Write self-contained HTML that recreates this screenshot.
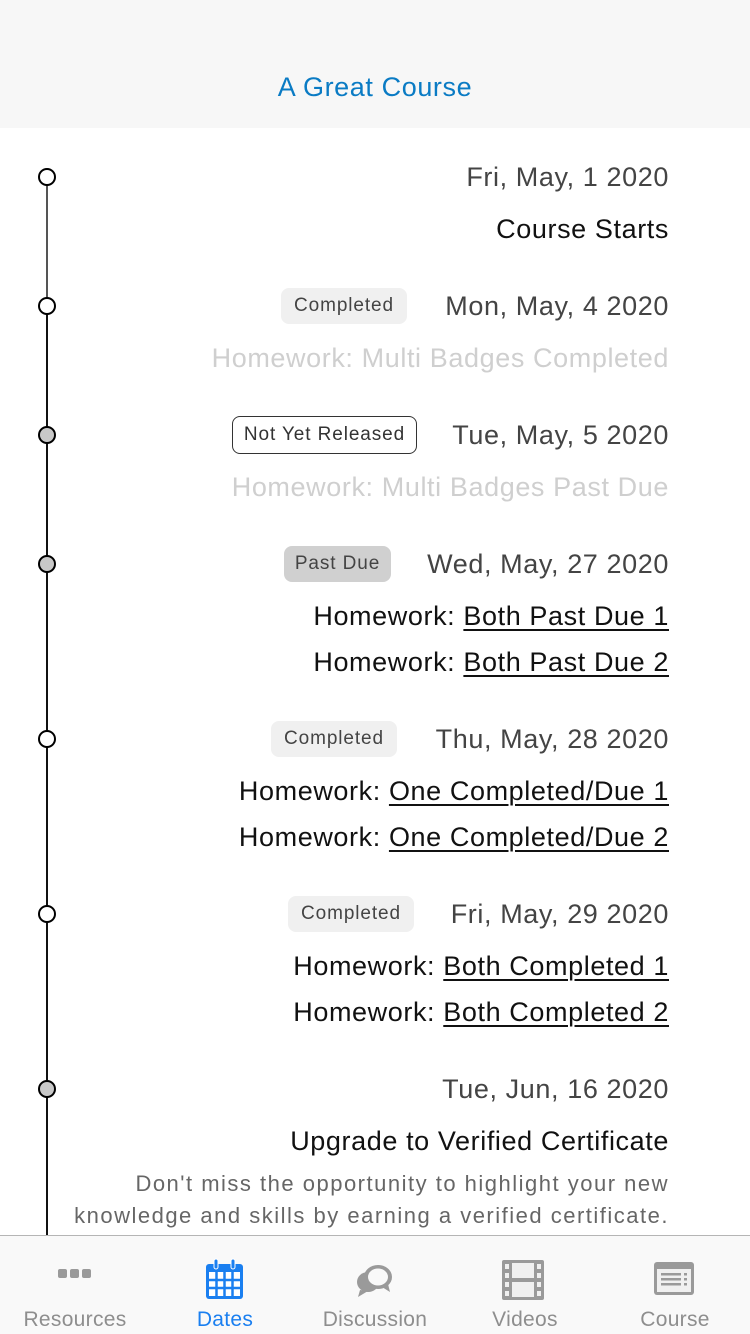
<!DOCTYPE html>
<html><head><meta charset="utf-8"><style>
*{margin:0;padding:0;box-sizing:border-box}
body{width:750px;height:1334px;overflow:hidden;background:#fff;font-family:"Liberation Sans",sans-serif;position:relative}
.hdr{position:absolute;left:0;top:0;width:750px;height:128px;background:#f7f7f7}
.hdr div{position:absolute;top:70px;width:750px;text-align:center;color:#0a7bc4;font-size:27px;letter-spacing:.6px;line-height:34px}
.t{position:absolute;right:81px;white-space:nowrap;font-size:27px;letter-spacing:.6px;line-height:32px}
.d{color:#444}
.k{color:#111}
.g{color:#cfcfcf}
.t u{text-decoration:underline;text-underline-offset:4px;text-decoration-thickness:2px}
.b{position:absolute;height:36px;border-radius:8px;font-size:19px;line-height:36px;text-align:center;color:#444;letter-spacing:.9px}
.c{position:absolute;left:38px;width:18px;height:18px;border:2px solid #000;border-radius:50%;background:#fff}
.c.f{background:#c8c8c8}
.ln{position:absolute;left:46px;width:2px;background:#111}
.desc{position:absolute;right:81px;text-align:right;font-size:22px;letter-spacing:1.5px;line-height:32px;color:#666;white-space:nowrap}
.tab{position:absolute;left:0;top:1235px;width:750px;height:99px;background:#f9f9f9;border-top:1px solid #b5b5b5}
.ti{position:absolute;top:72px;width:150px;text-align:center;font-size:21px;letter-spacing:.3px;color:#8e8e8e}
</style></head><body>
<div class="hdr"><div>A Great Course</div></div>
<div class="ln" style="top:177px;height:1058px"></div>
<div class="ln" style="top:177px;height:129px;background:#555"></div>
<div class="c" style="top:168px"></div>
<div class="c" style="top:297px"></div>
<div class="c f" style="top:426px"></div>
<div class="c f" style="top:555px"></div>
<div class="c" style="top:730px"></div>
<div class="c" style="top:905px"></div>
<div class="c f" style="top:1080px"></div>

<div class="t d" style="top:161px">Fri, May, 1 2020</div>
<div class="t k" style="top:213px">Course Starts</div>

<div class="b" style="left:281px;top:288px;width:126px;background:#f0f0f0">Completed</div>
<div class="t d" style="top:290px">Mon, May, 4 2020</div>
<div class="t g" style="top:342px">Homework: Multi Badges Completed</div>

<div class="b" style="left:232px;top:416px;width:185px;height:38px;line-height:36px;border:1px solid #333;color:#333">Not Yet Released</div>
<div class="t d" style="top:419px">Tue, May, 5 2020</div>
<div class="t g" style="top:471px">Homework: Multi Badges Past Due</div>

<div class="b" style="left:284px;top:546px;width:107px;background:#d0d0d0">Past Due</div>
<div class="t d" style="top:548px">Wed, May, 27 2020</div>
<div class="t k" style="top:600px">Homework: <u>Both Past Due 1</u></div>
<div class="t k" style="top:646px">Homework: <u>Both Past Due 2</u></div>

<div class="b" style="left:271px;top:721px;width:126px;background:#f0f0f0">Completed</div>
<div class="t d" style="top:723px">Thu, May, 28 2020</div>
<div class="t k" style="top:775px">Homework: <u>One Completed/Due 1</u></div>
<div class="t k" style="top:821px">Homework: <u>One Completed/Due 2</u></div>

<div class="b" style="left:288px;top:896px;width:126px;background:#f0f0f0">Completed</div>
<div class="t d" style="top:898px">Fri, May, 29 2020</div>
<div class="t k" style="top:950px">Homework: <u>Both Completed 1</u></div>
<div class="t k" style="top:996px">Homework: <u>Both Completed 2</u></div>

<div class="t d" style="top:1073px">Tue, Jun, 16 2020</div>
<div class="t k" style="top:1125px">Upgrade to Verified Certificate</div>
<div class="desc" style="top:1168px">Don't miss the opportunity to highlight your new<br>knowledge and skills by earning a verified certificate.</div>

<div class="tab">
 <svg style="position:absolute;left:58px;top:32px" width="34" height="12"><rect x="0" y="1" width="9" height="9" rx="2" fill="#9a9a9a"/><rect x="12" y="1" width="9" height="9" rx="2" fill="#9a9a9a"/><rect x="24" y="1" width="9" height="9" rx="2" fill="#9a9a9a"/></svg>
 <svg style="position:absolute;left:205px;top:22px" width="40" height="42"><rect x="1" y="6" width="37" height="35" rx="3" fill="#1a7ff0"/><g fill="#fff"><rect x="4" y="14" width="31" height="24"/></g><g stroke="#1a7ff0" stroke-width="2.5"><line x1="11.5" y1="14" x2="11.5" y2="38"/><line x1="19.5" y1="14" x2="19.5" y2="38"/><line x1="27.5" y1="14" x2="27.5" y2="38"/><line x1="4" y1="22" x2="35" y2="22"/><line x1="4" y1="30" x2="35" y2="30"/></g><rect x="9" y="1" width="4" height="10" rx="2" fill="#1a7ff0" stroke="#fff" stroke-width="1"/><rect x="26" y="1" width="4" height="10" rx="2" fill="#1a7ff0" stroke="#fff" stroke-width="1"/></svg>
 <svg style="position:absolute;left:354px;top:26px" width="42" height="36"><ellipse cx="14" cy="20" rx="11" ry="10" fill="#9a9a9a"/><path d="M6 28 L4 35 L14 29Z" fill="#9a9a9a"/><ellipse cx="24" cy="15" rx="14" ry="12" fill="#9a9a9a"/><ellipse cx="24" cy="15" rx="10" ry="8.5" fill="#f9f9f9"/><path d="M28 25 L36 30 L34 22Z" fill="#9a9a9a"/></svg>
 <svg style="position:absolute;left:502px;top:24px" width="42" height="40"><rect x="0" y="0" width="42" height="40" rx="2" fill="#9a9a9a"/><rect x="10" y="3" width="22" height="15" fill="#f0f0f0"/><rect x="10" y="22" width="22" height="15" fill="#f0f0f0"/><g fill="#f0f0f0"><rect x="3" y="4" width="4" height="5"/><rect x="3" y="13" width="4" height="5"/><rect x="3" y="22" width="4" height="5"/><rect x="3" y="31" width="4" height="5"/><rect x="35" y="4" width="4" height="5"/><rect x="35" y="13" width="4" height="5"/><rect x="35" y="22" width="4" height="5"/><rect x="35" y="31" width="4" height="5"/></g></svg>
 <svg style="position:absolute;left:654px;top:26px" width="40" height="33"><rect x="0" y="0" width="40" height="33" rx="3" fill="#9a9a9a"/><rect x="3" y="7" width="34" height="23" fill="#f0f0f0"/><g fill="#9a9a9a"><rect x="7" y="11" width="20" height="2.5"/><rect x="7" y="16" width="20" height="2.5"/><rect x="7" y="21" width="20" height="2.5"/><rect x="30" y="11" width="3" height="2.5"/><rect x="30" y="16" width="3" height="2.5"/><rect x="30" y="21" width="3" height="2.5"/></g></svg>
 <div class="ti" style="left:0">Resources</div>
 <div class="ti" style="left:150px;color:#1a7ff0">Dates</div>
 <div class="ti" style="left:300px">Discussion</div>
 <div class="ti" style="left:450px">Videos</div>
 <div class="ti" style="left:600px">Course</div>
</div>
</body></html>
